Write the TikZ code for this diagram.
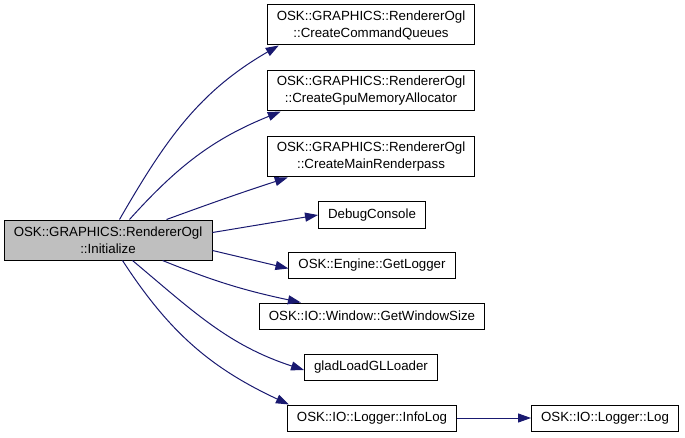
\documentclass[tikz,border=0pt]{standalone}
\usepackage{fontspec}
\setmainfont{Liberation Sans}
\usetikzlibrary{arrows.meta}
\definecolor{midnightblue}{RGB}{25,25,112}
\definecolor{callergray}{RGB}{191,191,191}

\begin{document}
\begin{tikzpicture}[x=1pt, y=1pt,
    fn/.style={draw=black, fill=white, line width=1pt, inner xsep=9.5pt,
        inner ysep=0pt, minimum height=26pt, align=center,
        font=\fontsize{13.3}{17}\selectfont},
    fntwo/.style={fn, minimum height=40pt, minimum width=204pt},
    call/.style={midnightblue, line width=1pt,
        -{Triangle[length=13pt, width=9pt]}}]

    % PAGE
    \useasboundingbox (0,0) rectangle (685,437);

    % CALLER
    \node[fntwo, fill=callergray, minimum width=208pt] (init) at (108,197)
        {OSK::GRAPHICS::RendererOgl\\::Initialize};

    % CALLEES
    \node[fntwo] (cmdqueues) at (371,412)
        {OSK::GRAPHICS::RendererOgl\\::CreateCommandQueues};
    \node[fntwo] (gpualloc) at (371,346)
        {OSK::GRAPHICS::RendererOgl\\::CreateGpuMemoryAllocator};
    \node[fntwo] (renderpass) at (371,280)
        {OSK::GRAPHICS::RendererOgl\\::CreateMainRenderpass};
    \node[fn] (debugcon) at (372,222) {DebugConsole};
    \node[fn] (getlogger) at (372,171.5) {OSK::Engine::GetLogger};
    \node[fn] (winsize) at (372,121) {OSK::IO::Window::GetWindowSize};
    \node[fn] (glad) at (371,70) {gladLoadGLLoader};
    \node[fn] (infolog) at (372,19) {OSK::IO::Logger::InfoLog};
    \node[fn] (log) at (605,19) {OSK::IO::Logger::Log};

    % CALLS FROM INITIALIZE
    \draw[call] ([xshift=116pt]init.north west)
        to[out=60, in=210] ([xshift=12pt]cmdqueues.south west);
    \draw[call] ([xshift=126pt]init.north west)
        to[out=48, in=202] ([xshift=14pt]gpualloc.south west);
    \draw[call] ([xshift=163pt]init.north west)
        to[out=20, in=198] ([xshift=21pt]renderpass.south west);
    \draw[call] ([yshift=-13pt]init.north east) -- (debugcon.west);
    \draw[call] ([yshift=10pt]init.south east) -- ([yshift=-3pt]getlogger.west);
    \draw[call] ([xshift=159pt]init.south west)
        to[out=-22, in=168] ([xshift=42pt]winsize.north west);
    \draw[call] ([xshift=129pt]init.south west)
        to[out=-40, in=162] ([yshift=-3pt]glad.west);
    \draw[call] ([xshift=119pt]init.south west)
        to[out=-57, in=155] ([xshift=2pt]infolog.north west);

    % NESTED CALL
    \draw[call] (infolog) -- (log);

\end{tikzpicture}
\end{document}
